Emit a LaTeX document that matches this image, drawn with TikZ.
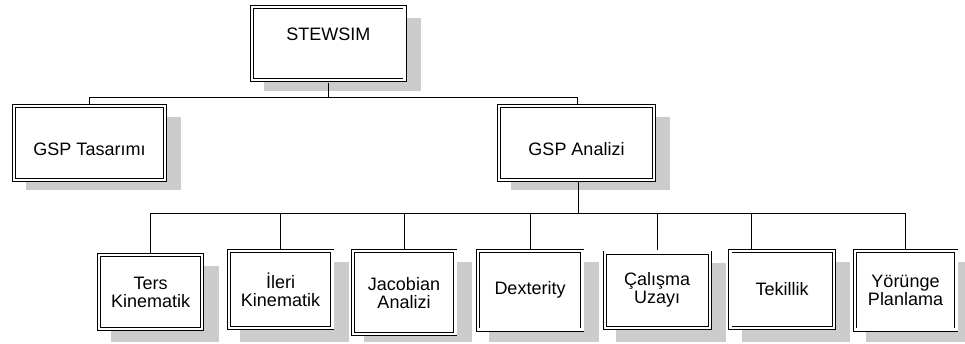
\documentclass[tikz,border=0pt]{standalone}
\usepackage{fontspec}
\setmainfont{Liberation Sans}
\usetikzlibrary{backgrounds}
\definecolor{shadowgray}{gray}{0.80}

\begin{document}
\begin{tikzpicture}[x=1pt,y=-1pt,
  box/.style={draw=black, double=white, line width=0.8pt, double distance=2.4pt,
    fill=white, inner sep=0pt, align=center,
    font=\fontsize{18}{18}\selectfont},
  link/.style={draw=black, line width=0.8pt, shorten <=2pt}]
\useasboundingbox (0,0) rectangle (965,343);

% top level
\node[box, minimum width=152.7pt, minimum height=73.3pt,
      text height=13pt, text depth=20pt] (stewsim) at (328.3,43.6) {STEWSIM};

% second level
\node[box, minimum width=151pt, minimum height=74pt,
      text height=24pt, text depth=0pt] (design) at (89.5,143) {GSP Tasarımı};
\node[box, minimum width=155pt, minimum height=74pt,
      text height=24pt, text depth=0pt] (analysis) at (576.5,143) {GSP Analizi};

% third level
\node[box, minimum width=103.3pt, minimum height=74pt]   (ters)      at (150.6,292)   {Ters\\Kinematik};
\node[box, minimum width=103.6pt, minimum height=77pt]   (ileri)     at (280.5,289.5) {İleri\\Kinematik};
\node[box, minimum width=102.6pt, minimum height=82.7pt] (jacobian)  at (404,292.6)   {Jacobian\\Analizi};
\node[box, minimum width=104.6pt, minimum height=78.7pt] (dexterity) at (530,290.3)   {Dexterity};
\node[box, minimum width=105pt,   minimum height=75.3pt] (calisma)   at (657.2,290.3) {Çalışma\\Uzayı};
\node[box, minimum width=103.4pt, minimum height=77pt]   (tekillik)  at (782,289.5)   {Tekillik};
\node[box, minimum width=101.6pt, minimum height=78.7pt] (yorunge)   at (905.5,290.3) {Yörünge\\Planlama};

% grey offset shadows behind the boxes
\coordinate (floor) at (0,342);
\begin{scope}[on background layer]
  \foreach \n in {stewsim,design,analysis}
    \fill[shadowgray] ([xshift=12pt,yshift=-11pt]\n.north west)
                      rectangle ([xshift=16pt,yshift=-10pt]\n.south east);
  \foreach \n in {ters,ileri,jacobian,dexterity,calisma,tekillik,yorunge}
    \fill[shadowgray] ([xshift=12pt,yshift=-11pt]\n.north west)
                      rectangle ([xshift=16pt]\n.south east |- floor);
\end{scope}

% connectors
\coordinate (busA) at (0,97);
\coordinate (busB) at (0,213);
\coordinate (anin) at ([xshift=1.3pt]analysis.north);
\coordinate (anout) at ([xshift=1.5pt]analysis.south);

\draw[link] (stewsim.south) -- (stewsim.south |- busA);
\draw[link] (design.north) |- (stewsim.south |- busA);
\draw[link] (anin) |- (stewsim.south |- busA);

\draw[link] (anout) -- (anout |- busB);
\foreach \n in {ters,ileri,jacobian,dexterity,calisma,yorunge}
  \draw[link] (\n.north) |- (anout |- busB);
\draw[link] ([xshift=-31pt]tekillik.north) |- (anout |- busB);
\end{tikzpicture}
\end{document}
